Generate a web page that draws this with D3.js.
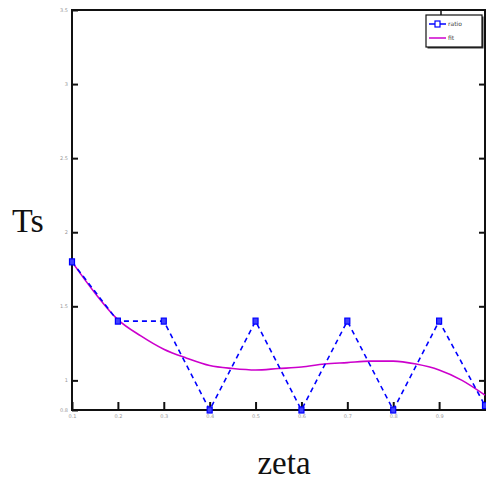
<!DOCTYPE html>
<html>
<head>
<meta charset="utf-8">
<script src="https://cdn.jsdelivr.net/npm/d3@7/dist/d3.min.js"></script>
<style>
  html, body { margin: 0; padding: 0; background: #fff; }
  svg { display: block; }
</style>
</head>
<body>
<svg id="chart" width="486" height="483"></svg>
<script>
// zeta values and the two series
const zeta = [0.1, 0.2, 0.3, 0.4, 0.5, 0.6, 0.7, 0.8, 0.9, 1.0];
const ratio = [1.8, 1.4, 1.4, 0.8, 1.4, 0.8, 1.4, 0.8, 1.4, 0.83];
const fitX = [0.1, 0.15, 0.2, 0.25, 0.3, 0.35, 0.4, 0.45, 0.5, 0.55, 0.6, 0.65, 0.7, 0.75, 0.8, 0.85, 0.9, 0.95, 1.0];
const fitY = [1.80, 1.59, 1.41, 1.30, 1.21, 1.15, 1.10, 1.08, 1.07, 1.08, 1.09, 1.11, 1.12, 1.13, 1.13, 1.11, 1.07, 1.00, 0.90];
const xTicks = [0.1, 0.2, 0.3, 0.4, 0.5, 0.6, 0.7, 0.8, 0.9];
const yTicks = [0.8, 1, 1.5, 2, 2.5, 3, 3.5];
const legendLabels = ["ratio", "fit"];

const svg = d3.select("#chart");
const plotL = 72, plotR = 485, plotT = 10, plotB = 410;

const x = d3.scaleLinear().domain([0.1, 1.0]).range([plotL, plotR]);
const y = d3.scaleLinear().domain([0.8, 3.5]).range([plotB, plotT]);

// frame
svg.append("rect")
  .attr("x", plotL).attr("y", plotT)
  .attr("width", plotR - plotL).attr("height", plotB - plotT)
  .attr("fill", "none").attr("stroke", "#111").attr("stroke-width", 2);

// axes with inward ticks
const xAxis = svg.append("g").attr("transform", `translate(0,${plotB})`)
  .call(d3.axisBottom(x).tickValues(xTicks).tickSizeInner(-8).tickSizeOuter(0).tickPadding(4)
    .tickFormat(d3.format(".1f")));
const yAxis = svg.append("g").attr("transform", `translate(${plotL},0)`)
  .call(d3.axisLeft(y).tickValues(yTicks).tickSizeInner(-6).tickSizeOuter(0).tickPadding(4)
    .tickFormat(d3.format("~g")));
const yAxisR = svg.append("g").attr("transform", `translate(${plotR},0)`)
  .call(d3.axisRight(y).tickValues(yTicks.filter(v => v > 0.8 && v < 3.5)).tickSizeInner(-6).tickSizeOuter(0).tickFormat(""));

[xAxis, yAxis, yAxisR].forEach(g => {
  g.select(".domain").remove();
  g.selectAll(".tick line").attr("stroke", "#111").attr("stroke-width", 2);
  g.selectAll(".tick text").attr("fill", "#999").attr("font-size", 5).attr("font-family", "DejaVu Sans");
});

// fitted curve
svg.append("path")
  .datum(fitX.map((v, i) => [v, fitY[i]]))
  .attr("fill", "none").attr("stroke", "#cc00cc").attr("stroke-width", 1.6)
  .attr("d", d3.line().x(d => x(d[0])).y(d => y(d[1])).curve(d3.curveMonotoneX));

// ratio series
const pts = zeta.map((v, i) => [v, ratio[i]]);
svg.append("path")
  .datum(pts)
  .attr("fill", "none").attr("stroke", "#0000ff").attr("stroke-width", 1.6)
  .attr("stroke-dasharray", "5,4")
  .attr("d", d3.line().x(d => x(d[0])).y(d => y(d[1])));
svg.append("g").selectAll("rect").data(pts).join("rect")
  .attr("x", d => x(d[0]) - 2.5).attr("y", d => y(d[1]) - 3)
  .attr("width", 5).attr("height", 6)
  .attr("fill", "#4040ff").attr("stroke", "#0000ff").attr("stroke-width", 1.2);

// legend
const lg = svg.append("g").attr("transform", "translate(426,15)");
svg.append("line").attr("x1", 441).attr("x2", 441).attr("y1", plotT).attr("y2", 15)
  .attr("stroke", "#111").attr("stroke-width", 1.5);
lg.append("rect").attr("x", 1.5).attr("y", 1.5).attr("width", 56).attr("height", 32).attr("fill", "#333");
lg.append("rect").attr("width", 56).attr("height", 32).attr("fill", "#fff").attr("stroke", "#111").attr("stroke-width", 1.2);
lg.append("line").attr("x1", 3).attr("x2", 20).attr("y1", 9).attr("y2", 9).attr("stroke", "#0000ff").attr("stroke-width", 1.5);
lg.append("rect").attr("x", 9).attr("y", 6).attr("width", 5).attr("height", 6).attr("fill", "#fff").attr("stroke", "#0000ff").attr("stroke-width", 1.2);
lg.append("line").attr("x1", 3).attr("x2", 20).attr("y1", 23).attr("y2", 23).attr("stroke", "#cc00cc").attr("stroke-width", 1.5);
lg.selectAll("text.lab").data(legendLabels).join("text")
  .attr("x", 22).attr("y", (d, i) => 11 + i * 14)
  .attr("font-size", 6).attr("font-family", "DejaVu Sans").attr("fill", "#444")
  .text(d => d);

// axis titles
svg.append("text").attr("x", 12).attr("y", 232)
  .attr("font-family", "Liberation Serif").attr("font-size", 34).attr("fill", "#111").text("Ts");
svg.append("text").attr("x", 284).attr("y", 474).attr("text-anchor", "middle")
  .attr("font-family", "Liberation Serif").attr("font-size", 33).attr("fill", "#111").text("zeta");
</script>
</body>
</html>
